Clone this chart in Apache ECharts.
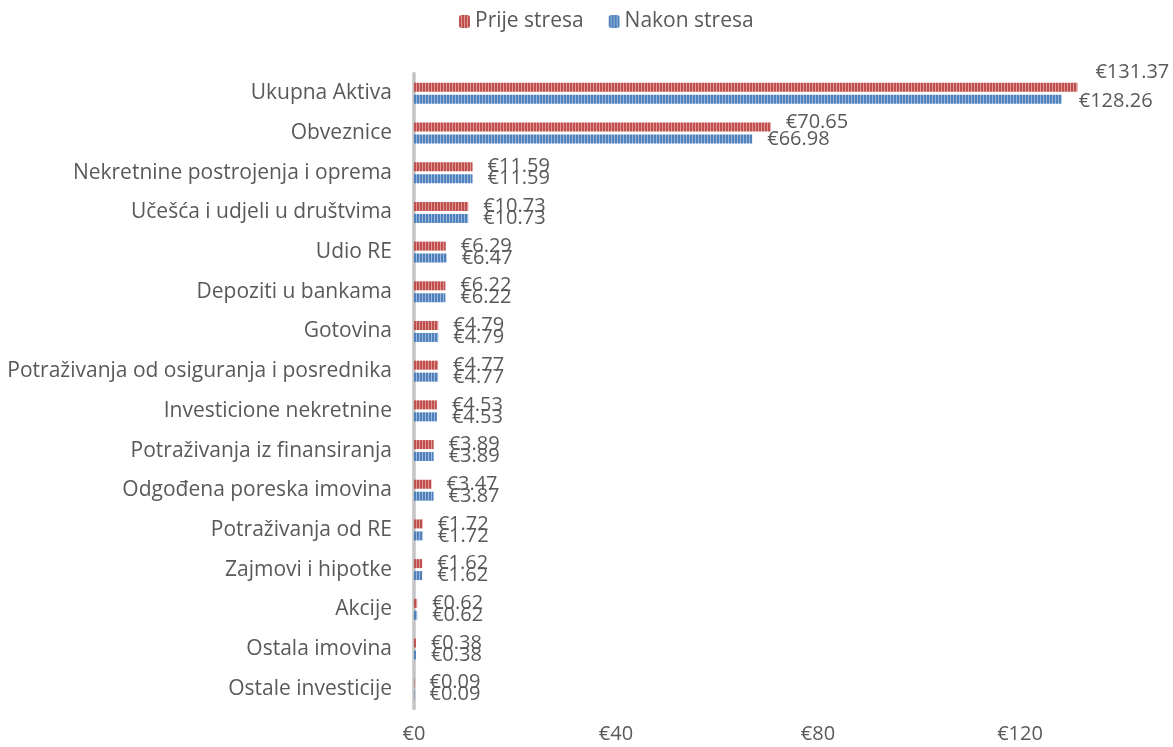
<!DOCTYPE html>
<html>
<head>
<meta charset="utf-8">
<script src="https://cdn.jsdelivr.net/npm/echarts@6/dist/echarts.min.js"></script>
<style>
  html, body { margin: 0; padding: 0; background: #fff; }
  #chart { width: 1173px; height: 747px; }
</style>
</head>
<body>
<div id="chart"></div>
<script>
  // kategorije (od vrha prema dnu)
  const categories = [
    'Ukupna Aktiva', 'Obveznice', 'Nekretnine postrojenja i oprema', 'Učešća i udjeli u društvima',
    'Udio RE', 'Depoziti u bankama', 'Gotovina', 'Potraživanja od osiguranja i posrednika',
    'Investicione nekretnine', 'Potraživanja iz finansiranja', 'Odgođena poreska imovina',
    'Potraživanja od RE', 'Zajmovi i hipotke', 'Akcije', 'Ostala imovina', 'Ostale investicije'
  ];
  const prijeStresa = [131.37, 70.65, 11.59, 10.73, 6.29, 6.22, 4.79, 4.77, 4.53, 3.89, 3.47, 1.72, 1.62, 0.62, 0.38, 0.09];
  const nakonStresa = [128.26, 66.98, 11.59, 10.73, 6.47, 6.22, 4.79, 4.77, 4.53, 3.89, 3.87, 1.72, 1.62, 0.62, 0.38, 0.09];
  const xTicks = [0, 40, 80, 120];

  // prugasti uzorak kao u Excelu
  const makePattern = (dark, light) => {
    const c = document.createElement('canvas');
    c.width = 3; c.height = 4;
    const ctx = c.getContext('2d');
    ctx.fillStyle = dark;
    ctx.fillRect(0, 0, 3, 4);
    ctx.fillStyle = light;
    ctx.fillRect(2, 0, 1, 4);
    return { image: c, repeat: 'repeat' };
  };
  const redFill = makePattern('#C0504D', '#DE9997');
  const blueFill = makePattern('#4F81BD', '#9DB8DC');

  // ručno pomjerene oznake (kao u originalu)
  const redOffsets = { 0: [3, -15], 1: [0, -5] };
  const blueOffsets = { 0: [2, 2] };

  const buildData = (values, offsets) => values.map((v, i) => {
    const item = { value: v };
    if (offsets[i]) item.label = { offset: offsets[i] };
    return item;
  });

  const labelStyle = {
    show: true,
    position: 'right',
    distance: 15,
    color: '#595959',
    fontSize: 20,
    fontFamily: 'Open Sans',
    formatter: p => '€' + p.value.toFixed(2)
  };

  const chart = echarts.init(document.getElementById('chart'));
  chart.setOption({
    animation: false,
    textStyle: { fontFamily: 'Open Sans' },
    legend: {
      top: 11,
      left: 459,
      padding: 0,
      itemWidth: 11,
      itemHeight: 13,
      itemGap: 25,
      textStyle: { color: '#595959', fontSize: 21, fontFamily: 'Open Sans' },
      data: ['Prije stresa', 'Nakon stresa']
    },
    grid: { left: 414, right: 52, top: 73.5, bottom: 38.5, containLabel: false },
    xAxis: {
      type: 'value',
      min: 0,
      max: 140,
      interval: 40,
      axisLine: { show: false },
      axisTick: { show: false },
      splitLine: { show: false },
      axisLabel: {
        margin: 16,
        color: '#595959',
        fontSize: 20,
        fontFamily: 'Open Sans',
        showMaxLabel: false,
        formatter: v => xTicks.includes(v) ? '€' + v : ''
      }
    },
    yAxis: {
      type: 'category',
      inverse: true,
      data: categories,
      axisTick: { show: false },
      axisLine: { show: true, lineStyle: { color: '#C4C4C4', width: 3.5 } },
      axisLabel: { margin: 22, color: '#595959', fontSize: 21, fontFamily: 'Open Sans' }
    },
    series: [
      {
        name: 'Prije stresa',
        type: 'bar',
        barWidth: 9,
        barGap: '33%',
        itemStyle: { color: redFill },
        label: labelStyle,
        data: buildData(prijeStresa, redOffsets)
      },
      {
        name: 'Nakon stresa',
        type: 'bar',
        barWidth: 9,
        barGap: '33%',
        itemStyle: { color: blueFill },
        label: labelStyle,
        data: buildData(nakonStresa, blueOffsets)
      }
    ]
  });
</script>
</body>
</html>
